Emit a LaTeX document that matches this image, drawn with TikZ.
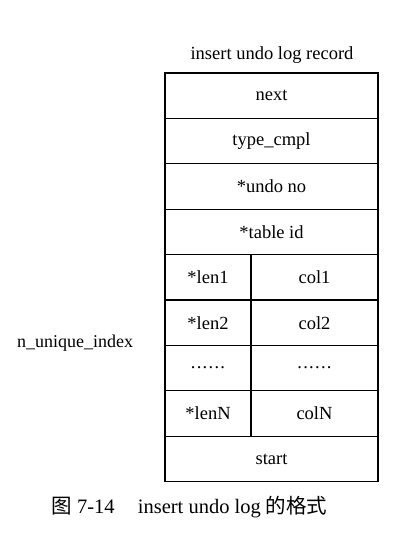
\documentclass[tikz,border=0pt]{standalone}
\usepackage{fontspec}
\setmainfont{Liberation Serif}
\newfontfamily\cjk{Noto Sans CJK SC}
\usetikzlibrary{positioning}
\def\rowdots{\raisebox{1.5pt}{.\kern1.3pt.\kern1.3pt.\kern1.3pt.\kern1.3pt.\kern1.3pt.}}

\begin{document}
\begin{tikzpicture}[x=1pt,y=-1pt,
		field/.style={draw, line width=1.1pt, outer sep=0pt, inner sep=0pt,
			minimum width=213pt, minimum height=45.4pt, font=\fontsize{18.5}{20}\selectfont},
		lenfield/.style={field, minimum width=86pt},
		colfield/.style={field, minimum width=127pt},
		label/.style={font=\fontsize{18.5}{20}\selectfont}]
	%%%%% START %%%%%
	\useasboundingbox (0,0) rectangle (418,540);
	
	\node[label] (title) at (272, 55) {insert undo log record};
	
	\node[field] (next) at (271.5, 95.7) {next};
	\node[field, below=0pt of next] (type) {type\_cmpl};
	\node[field, below=0pt of type] (undono) {*undo no};
	\node[field, below=0pt of undono] (tableid) {*table id};
	
	\node[lenfield, anchor=north west] (len1) at (tableid.south west) {*len1};
	\node[colfield, right=0pt of len1] (col1) {col1};
	\node[lenfield, below=0pt of len1] (len2) {*len2};
	\node[colfield, right=0pt of len2] (col2) {col2};
	\node[lenfield, below=0pt of len2] (dotsl) {\rowdots};
	\node[colfield, right=0pt of dotsl] (dotsr) {\rowdots};
	\node[lenfield, below=0pt of dotsl] (lenN) {*lenN};
	\node[colfield, right=0pt of lenN] (colN) {colN};
	
	\node[field, anchor=north west] (start) at (lenN.south west) {start};
	
	\node[label, font=\fontsize{18}{20}\selectfont] (nunique) at (75, 343) {n\_unique\_index};
	
	\node[label, anchor=west, font=\fontsize{20.5}{22}\selectfont] (caption) at (48, 507)
		{{\cjk 图} 7-14\hspace{18pt} insert undo log {\cjk 的格式}};
	%%%%% END %%%%%
\end{tikzpicture}
\end{document}
